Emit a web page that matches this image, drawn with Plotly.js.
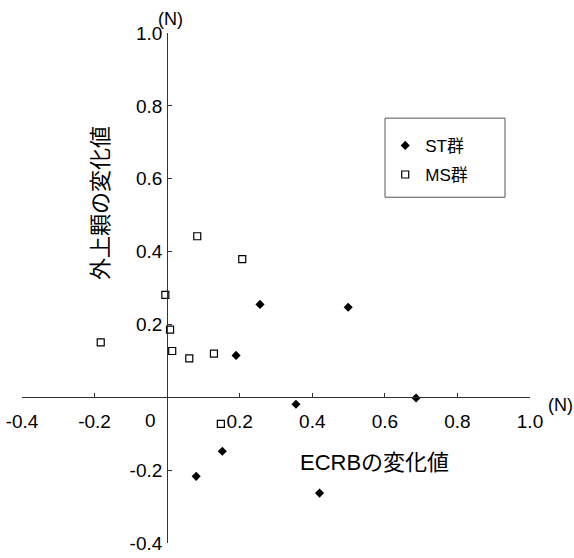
<!DOCTYPE html>
<html>
<head>
<meta charset="utf-8">
<script src="https://cdn.plot.ly/plotly-3.0.1.min.js"></script>
<style>html,body{margin:0;padding:0;background:#fff;}#chart{width:574px;height:558px;}</style>
</head>
<body>
<div id="chart"></div>
<script>
// ST group (filled diamonds)
const stX = [0.256, 0.190, 0.499, 0.686, 0.355, 0.152, 0.080, 0.420];
const stY = [0.255, 0.115, 0.247, -0.002, -0.019, -0.148, -0.217, -0.263];
// MS group (open squares)
const msX = [0.083, 0.207, -0.005, 0.008, -0.183, 0.014, 0.061, 0.129, 0.148];
const msY = [0.442, 0.379, 0.281, 0.186, 0.151, 0.127, 0.107, 0.120, -0.073];
const tickVals = [-0.4, -0.2, 0.2, 0.4, 0.6, 0.8, 1.0];
const tickText = ['-0.4', '-0.2', '0.2', '0.4', '0.6', '0.8', '1.0'];
const seriesNames = ['ST群', 'MS群'];
const xTitle = 'ECRBの変化値';
const yTitle = '外上顆の変化値';
const unitLabel = '(N)';

const FONT = '"Liberation Sans", Arial, "Noto Sans CJK JP", sans-serif';
const CJK = '"Liberation Sans", "Noto Sans CJK JP", sans-serif';

const traces = [
  {x: stX, y: stY, type: 'scatter', mode: 'markers', name: seriesNames[0], legendgroup: 'a',
   marker: {symbol: 'diamond', size: 7, color: '#000'}, cliponaxis: false},
  {x: msX, y: msY, type: 'scatter', mode: 'markers', name: seriesNames[1], legendgroup: 'b',
   marker: {symbol: 'square-open', size: 7, color: '#000', line: {width: 1.2, color: '#000'}}, cliponaxis: false}
];

const axisCommon = {
  range: [-0.4, 1.0], showgrid: false, zeroline: false, showline: true,
  linecolor: '#333', linewidth: 1, ticks: 'inside', ticklen: 4, tickcolor: '#333',
  tickvals: tickVals, ticktext: tickText, tickfont: {family: FONT, size: 19, color: '#000'},
  anchor: 'free', position: 0.4 / 1.4, fixedrange: true
};

const layout = {
  width: 574, height: 558,
  margin: {l: 22, r: 44, t: 33, b: 15},
  paper_bgcolor: '#fff', plot_bgcolor: '#fff',
  showlegend: true,
  xaxis: Object.assign({}, axisCommon, {ticklabelstandoff: 7}),
  yaxis: Object.assign({}, axisCommon, {ticklabelstandoff: 1}),
  legend: {x: 0.715, y: 0.814, xanchor: 'left', yanchor: 'top', bgcolor: 'rgba(0,0,0,0)',
           borderwidth: 0, traceorder: 'grouped', tracegroupgap: 4,
           font: {family: CJK, size: 17, color: '#000'}},
  shapes: [
    {type: 'rect', xref: 'paper', yref: 'paper', x0: 0.7146, x1: 0.9508, y0: 0.678, y1: 0.833,
     line: {color: '#555', width: 1}, fillcolor: 'rgba(0,0,0,0)'}
  ],
  annotations: [
    {text: '0', xref: 'x', yref: 'y', x: -0.047, y: -0.064, showarrow: false,
     xanchor: 'center', yanchor: 'middle', font: {family: FONT, size: 19, color: '#000'}},
    {text: unitLabel, xref: 'paper', yref: 'paper', x: (170 - 22) / 508, y: (543 - 19) / 510, showarrow: false,
     xanchor: 'center', yanchor: 'middle', font: {family: FONT, size: 18, color: '#000'}},
    {text: unitLabel, xref: 'paper', yref: 'paper', x: (560 - 22) / 508, y: (543 - 405) / 510, showarrow: false,
     xanchor: 'center', yanchor: 'middle', font: {family: FONT, size: 18, color: '#000'}},
    {text: xTitle, xref: 'paper', yref: 'paper', x: (374 - 22) / 508, y: (543 - 462) / 510, showarrow: false,
     xanchor: 'center', yanchor: 'middle', font: {family: CJK, size: 22, color: '#000'}},
    {text: yTitle, xref: 'paper', yref: 'paper', x: (100 - 22) / 508, y: (543 - 203) / 510, showarrow: false,
     textangle: -90, xanchor: 'center', yanchor: 'middle', font: {family: CJK, size: 22, color: '#000'}}
  ]
};

Plotly.newPlot('chart', traces, layout, {displayModeBar: false, staticPlot: true});
</script>
</body>
</html>
